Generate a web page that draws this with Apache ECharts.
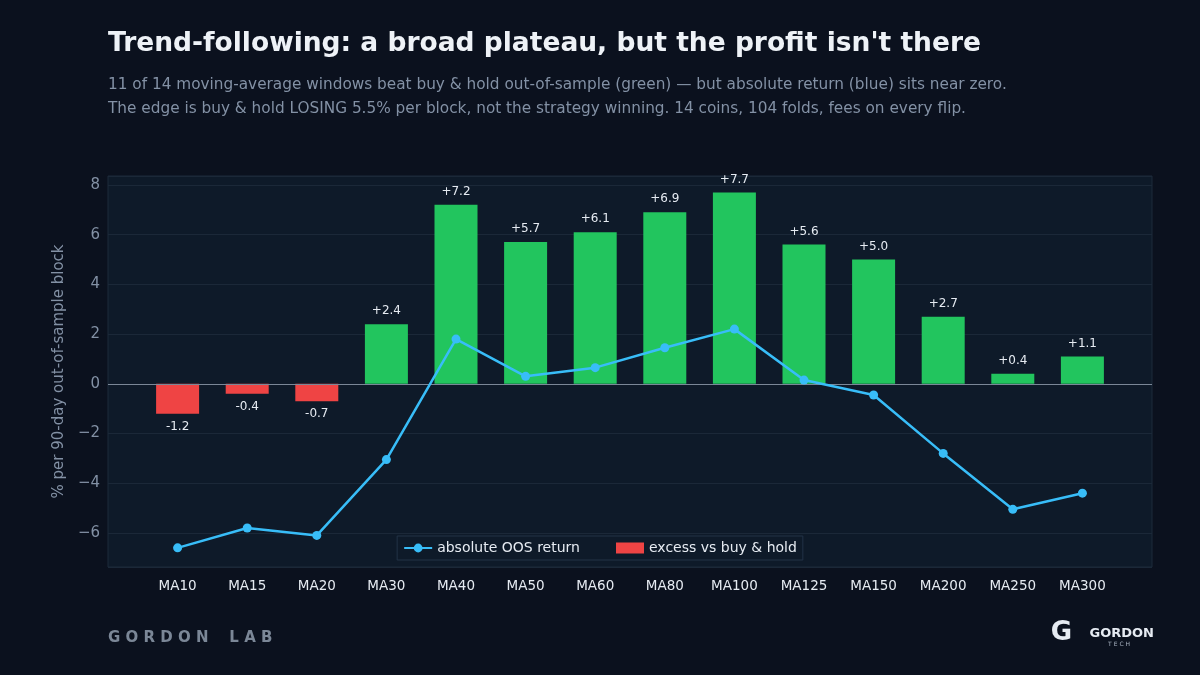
<!DOCTYPE html>
<html>
<head>
<meta charset="utf-8">
<script src="https://cdn.jsdelivr.net/npm/echarts@6/dist/echarts.min.js"></script>
<style>
  html, body { margin: 0; padding: 0; background: #0b111e; }
  #chart { width: 1200px; height: 675px; }
</style>
</head>
<body>
<div id="chart"></div>
<script>
const categories = ["MA10", "MA15", "MA20", "MA30", "MA40", "MA50", "MA60", "MA80", "MA100", "MA125", "MA150", "MA200", "MA250", "MA300"];
const excessValues = [-1.2, -0.4, -0.7, 2.4, 7.2, 5.7, 6.1, 6.9, 7.7, 5.6, 5.0, 2.7, 0.4, 1.1];
const absoluteValues = [-6.6, -5.8, -6.1, -3.05, 1.8, 0.3, 0.65, 1.45, 2.2, 0.15, -0.45, -2.8, -5.05, -4.4];

const GREEN = "#22c55e", RED = "#ef4444", BLUE = "#38bdf8";
const chart = echarts.init(document.getElementById("chart"));

chart.setOption({
  backgroundColor: "#0b111e",
  textStyle: { fontFamily: "DejaVu Sans" },
  title: {
    text: "Trend-following: a broad plateau, but the profit isn't there",
    subtext: "11 of 14 moving-average windows beat buy & hold out-of-sample (green) — but absolute return (blue) sits near zero.\nThe edge is buy & hold LOSING 5.5% per block, not the strategy winning. 14 coins, 104 folds, fees on every flip.",
    left: 108, top: 31, padding: 0,
    textStyle: { color: "#eef2f7", fontSize: 26.5, fontWeight: "bold" },
    subtextStyle: { color: "#8391a5", fontSize: 15.3, lineHeight: 24 },
    itemGap: 15
  },
  grid: { left: 108, right: 48, top: 176, bottom: 108, show: true, backgroundColor: "#0e1a29", borderColor: "#1c2a3b", borderWidth: 1 },
  legend: {
    bottom: 115, left: "center",
    backgroundColor: "#0e1a29", borderColor: "#223247", borderWidth: 1, padding: [5, 6],
    itemGap: 36, itemWidth: 28, itemHeight: 11,
    textStyle: { color: "#e6ebf2", fontSize: 14 },
    data: [{ name: "absolute OOS return" }, { name: "excess vs buy & hold", icon: "rect" }]
  },
  xAxis: {
    type: "value", min: -1, max: 14, interval: 1,
    axisLine: { show: false }, axisTick: { show: false }, splitLine: { show: false },
    axisLabel: {
      color: "#e6ebf2", fontSize: 13.5, margin: 12,
      formatter: v => categories[v] || ""
    }
  },
  yAxis: {
    type: "value", min: -7.37, max: 8.36, splitNumber: 8,
    name: "% per 90-day out-of-sample block", nameLocation: "middle", nameGap: 38,
    nameTextStyle: { color: "#8391a5", fontSize: 15 },
    axisLine: { show: false }, axisTick: { show: false },
    axisLabel: { color: "#8391a5", fontSize: 15, showMinLabel: false, showMaxLabel: false,
      formatter: v => String(v).replace("-", "\u2212") },
    splitLine: { lineStyle: { color: "#1b2838" } }
  },
  series: [
    {
      name: "excess vs buy & hold", type: "bar", barWidth: 43,
      itemStyle: { color: RED },
      data: excessValues.map((v, i) => ({
        value: [i, v],
        itemStyle: { color: v < 0 ? RED : GREEN },
        label: { position: v < 0 ? "bottom" : "top" }
      })),
      label: {
        show: true, color: "#e6ebf2", fontSize: 12, distance: 7,
        formatter: p => (p.value[1] > 0 ? "+" : "") + p.value[1].toFixed(1)
      },
      markLine: {
        silent: true, symbol: "none", label: { show: false },
        lineStyle: { color: "#7b8797", type: "solid", width: 1.2 },
        data: [{ yAxis: 0 }]
      }
    },
    {
      name: "absolute OOS return", type: "line", z: 5,
      symbol: "circle", symbolSize: 9,
      itemStyle: { color: BLUE }, lineStyle: { color: BLUE, width: 2.5 },
      data: absoluteValues.map((v, i) => [i, v])
    }
  ],
  graphic: [
    { type: "text", left: 108, top: 631, style: { text: "G O R D O N    L A B", fill: "#7b8797", font: "bold 15px DejaVu Sans" } },
    { type: "text", right: 46, top: 627, style: { text: "GORDON", fill: "#e6ebf2", font: "bold 13px DejaVu Sans" } },
    { type: "text", right: 70, top: 641, style: { text: "T E C H", fill: "#aab4c2", font: "6px DejaVu Sans" } },
    { type: "text", right: 128, top: 620, style: { text: "G", fill: "#e6ebf2", font: "bold 26px DejaVu Sans" } }
  ]
});
</script>
</body>
</html>
